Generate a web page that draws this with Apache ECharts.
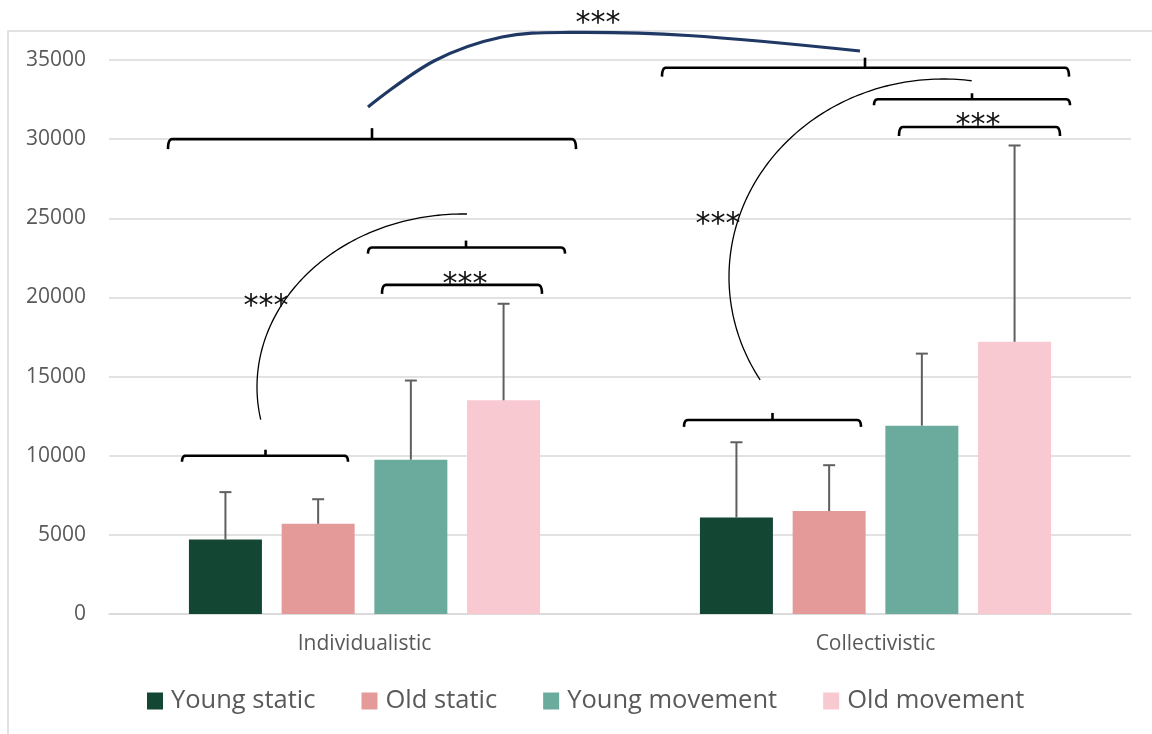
<!DOCTYPE html>
<html><head><meta charset="utf-8">
<script src="https://cdn.jsdelivr.net/npm/echarts/dist/echarts.min.js"></script>
<style>html,body{margin:0;padding:0;background:#fff}#c{width:1152px;height:734px}</style>
</head><body><div id="c"></div>
<script>
// ---- data ----
const categories = ['Individualistic', 'Collectivistic'];
const seriesNames = ['Young static', 'Old static', 'Young movement', 'Old movement'];
const youngStatic = [4700, 6100];
const oldStatic = [5700, 6500];
const youngMovement = [9750, 11900];
const oldMovement = [13500, 17200];
// upper error (SD) values
const youngStaticErr = [3000, 4750];
const oldStaticErr = [1550, 2900];
const youngMovementErr = [5000, 4550];
const oldMovementErr = [6100, 12400];
const yTickStep = 5000;
const yMax = 35000;
const sigLabel = '***';

const colors = ['#134734', '#E49A99', '#6BAB9D', '#F8C9D1'];
const means = [youngStatic, oldStatic, youngMovement, oldMovement];
const errs = [youngStaticErr, oldStaticErr, youngMovementErr, oldMovementErr];

const BAR_W = 73, BAR_GAP = 0.27;
const errData = [];
means.forEach((m, si) => m.forEach((v, ci) => errData.push([ci, si, v, v + errs[si][ci]])));

const chart = echarts.init(document.getElementById('c'));
const font = 'Open Sans';
const option = {
  animation: false,
  grid: { left: 109, right: 21, top: 60, bottom: 120 },
  xAxis: {
    type: 'category', data: categories,
    axisLine: { lineStyle: { color: '#d9d9d9', width: 1.5 } },
    axisTick: { show: false },
    axisLabel: { color: '#595959', fontSize: 21, fontFamily: font, margin: 20 }
  },
  yAxis: {
    type: 'value', min: 0, max: yMax, interval: yTickStep,
    axisLine: { show: false }, axisTick: { show: false },
    axisLabel: { color: '#595959', fontSize: 21, fontFamily: font, margin: 23, formatter: v => String(v) },
    splitLine: { lineStyle: { color: '#d9d9d9', width: 1.5 } }
  },
  legend: {
    data: seriesNames, left: 142, top: 683, icon: 'rect',
    itemWidth: 16, itemHeight: 17, itemGap: 46,
    textStyle: { fontSize: 25.5, color: '#595959', fontFamily: font, padding: [0, 0, 0, 3] }
  },
  series: seriesNames.map((n, i) => ({
    type: 'bar', name: n, data: means[i], barWidth: BAR_W, barGap: (BAR_GAP * 100) + '%',
    itemStyle: { color: colors[i] }
  })).concat([{
    type: 'custom', name: 'err', data: errData, z: 5, silent: true,
    encode: { x: 0, y: 3 },
    renderItem: function (params, api) {
      const ci = api.value(0), si = api.value(1);
      const b = api.coord([ci, api.value(2)]);
      const t = api.coord([ci, api.value(3)]);
      const x = b[0] + (si - 1.5) * BAR_W * (1 + BAR_GAP);
      const st = { stroke: '#5f5f5f', lineWidth: 2 };
      return { type: 'group', children: [
        { type: 'line', shape: { x1: x, y1: b[1], x2: x, y2: t[1] }, style: st },
        { type: 'line', shape: { x1: x - 6, y1: t[1], x2: x + 6, y2: t[1] }, style: st }
      ] };
    }
  }])
};
chart.setOption(option);

// ---- significance annotations (anchored to category centre + value axis) ----
function X(ci, off) { return chart.convertToPixel({ xAxisIndex: 0 }, categories[ci]) + off; }
function Y(v) { return chart.convertToPixel({ yAxisIndex: 0 }, v); }

const brackets = [
  { c: 0, a: -182.5, b: -16.5, v: 10000, t: -99, hook: 6, tk: 6 },
  { c: 0, a: 17.5, b: 177.5, v: 20790, t: null, hook: 9, tk: 0 },
  { c: 0, a: 3.5, b: 200.5, v: 23150, t: 101.5, hook: 6, tk: 7 },
  { c: 0, a: -196.5, b: 211.5, v: 30000, t: 7.5, hook: 10, tk: 11 },
  { c: 1, a: -191.5, b: -14.5, v: 12260, t: -103, hook: 7, tk: 7 },
  { c: 1, a: -213.5, b: 193.5, v: 34515, t: -10.5, hook: 9, tk: 10 },
  { c: 1, a: -1.5, b: 194.5, v: 32520, t: 96.5, hook: 6, tk: 6 },
  { c: 1, a: 23.5, b: 184.5, v: 30770, t: null, hook: 9, tk: 0 }
];
// glyph centres of the significance stars
const stars = [
  { c: 0, off: 100.5, v: 21290 },
  { c: 0, off: -98.5, v: 19900 },
  { c: 0, off: 233.5, v: 37780 },
  { c: 1, off: -157.5, v: 25080 },
  { c: 1, off: 102.5, v: 31335 }
];
const arcs = [
  { c: 0, off: 98.5, v: 14342, rx: 206, ry: 173, from: 88.9, to: 191.3 },
  { c: 1, off: 67.5, v: 21292, rx: 214, ry: 198, from: 82.3, to: 211.4 }
];
const linkCurve = [[0, 3.5, 32032], [0, 69.5, 34939], [0, 137.5, 36455], [0, 205.5, 36739], [0, 323.5, 36549], [0, 495.5, 35570]];

function corner(px, py, cx, cy, ex, ey) { // quadratic corner points
  const pts = [];
  for (let i = 0; i <= 6; i++) {
    const t = i / 6, u = 1 - t;
    pts.push([u * u * px + 2 * u * t * cx + t * t * ex, u * u * py + 2 * u * t * cy + t * t * ey]);
  }
  return pts;
}

const g = [];
g.push({ type: 'rect', silent: true, z: -10, shape: { x: 8, y: 31, width: 1300, height: 900 },
  style: { fill: 'none', stroke: '#d9d9d9', lineWidth: 1.5 } });
brackets.forEach(k => {
  const x0 = X(k.c, k.a), x1 = X(k.c, k.b), y = Y(k.v), r = 4;
  const pts = corner(x0, y + k.hook, x0, y, x0 + r, y).concat(corner(x1 - r, y, x1, y, x1, y + k.hook));
  g.push({ type: 'polyline', silent: true, z: 20, shape: { points: pts }, style: { fill: 'none', stroke: '#000', lineWidth: 2.6 } });
  if (k.t !== null) {
    const xt = X(k.c, k.t);
    g.push({ type: 'line', silent: true, z: 20, shape: { x1: xt, y1: y, x2: xt, y2: y - k.tk }, style: { stroke: '#000', lineWidth: 2.6 } });
  }
});
arcs.forEach(a => {
  const cx = X(a.c, a.off), cy = Y(a.v), pts = [];
  for (let t = a.from; t <= a.to + 0.001; t += 1) {
    const r = t * Math.PI / 180;
    pts.push([cx + a.rx * Math.cos(r), cy - a.ry * Math.sin(r)]);
  }
  g.push({ type: 'polyline', silent: true, z: 20, shape: { points: pts }, style: { fill: 'none', stroke: '#000', lineWidth: 1.3 } });
});
g.push({ type: 'polyline', silent: true, z: 20, shape: { points: linkCurve.map(p => [X(p[0], p[1]), Y(p[2])]), smooth: 0.35 },
  style: { fill: 'none', stroke: '#1F3864', lineWidth: 3.2 } });
stars.forEach(s => {
  g.push({ type: 'text', silent: true, z: 21, x: X(s.c, s.off), y: Y(s.v) + 8,
    style: { text: sigLabel, fill: '#111', font: '30px "DejaVu Sans"', align: 'center', verticalAlign: 'middle' } });
});
chart.setOption({ graphic: { elements: g } });
</script></body></html>
